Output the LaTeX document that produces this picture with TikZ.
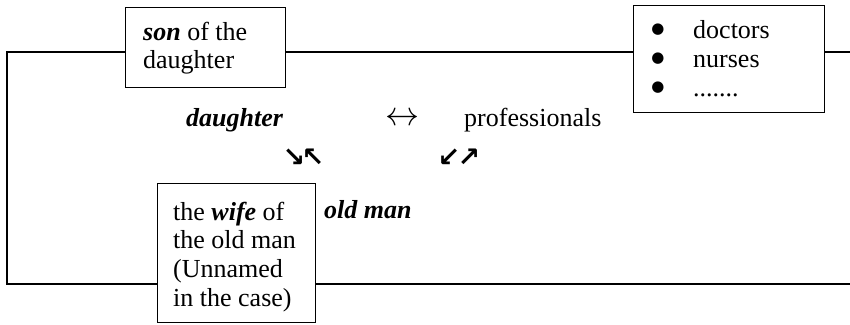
\documentclass[tikz,border=0pt]{standalone}
\usepackage{fontspec}
\setmainfont{Liberation Serif}
\newfontfamily\arrowfont{DejaVu Sans}
\begin{document}
\begin{tikzpicture}[x=1pt,y=-1pt,
  box/.style={draw,line width=1.3pt,inner sep=0pt,anchor=north west},
  txt/.style={inner sep=0pt,anchor=base west,font=\fontsize{26}{30}\selectfont},
  bul/.style={inner sep=0pt,anchor=center,font=\arrowfont\fontsize{15}{18}\selectfont},
  arr/.style={inner sep=0pt,anchor=center,font=\arrowfont\bfseries\fontsize{27}{30}\selectfont},
  frame/.style={line width=1.3pt}]
\useasboundingbox (0,0) rectangle (850,324);
% boxes
\node[box,minimum width=160pt,minimum height=80pt] (son) at (125,7) {};
\node[box,minimum width=191pt,minimum height=107pt] (prof) at (633,5) {};
\node[box,minimum width=158pt,minimum height=139pt] (wife) at (157,183) {};
% son text
\node[txt] (s1) at (143,40) {\textbf{\textit{son}} of the};
\node[txt] (s2) at (143,68) {daughter};
% professionals list
\node[bul] (b1) at (658,30) {●};
\node[txt] (p1) at (693,38) {doctors};
\node[bul] (b2) at (658,59) {●};
\node[txt] (p2) at (693,67) {nurses};
\node[bul] (b3) at (658,88) {●};
\node[txt] (p3) at (693,96) {.......};
% wife text
\node[txt] (w1) at (173,220) {the \textbf{\textit{wife}} of};
\node[txt] (w2) at (173,248) {the old man};
\node[txt] (w3) at (173,277) {(Unnamed};
\node[txt] (w4) at (173,306) {in the case)};
% middle texts
\node[txt] (dau) at (186,126) {\textbf{\textit{daughter}}};
\node[inner sep=0pt,anchor=center] (lr) at (402,119) {\resizebox{34pt}{!}{$\leftrightarrow$}};
\node[txt] (pro) at (464,126) {professionals};
\node[arr] (a1) at (294,158) {↘};
\node[arr] (a2) at (313,158) {↖};
\node[arr] (a3) at (449,158) {↙};
\node[arr] (a4) at (469,158) {↗};
\node[txt] (old) at (324,218) {\textbf{\textit{old man}}};
% frame
\coordinate (tl) at (7,52);
\coordinate (bl) at (7,284);
\coordinate (tr) at (850,52);
\coordinate (br) at (850,284);
\draw[frame] (tl -| son.west) -- (tl) -- (bl) -- (bl -| wife.west);
\draw[frame] (tl -| son.east) -- (tl -| prof.west);
\draw[frame] (tl -| prof.east) -- (tr);
\draw[frame] (bl -| wife.east) -- (br);
\end{tikzpicture}
\end{document}
